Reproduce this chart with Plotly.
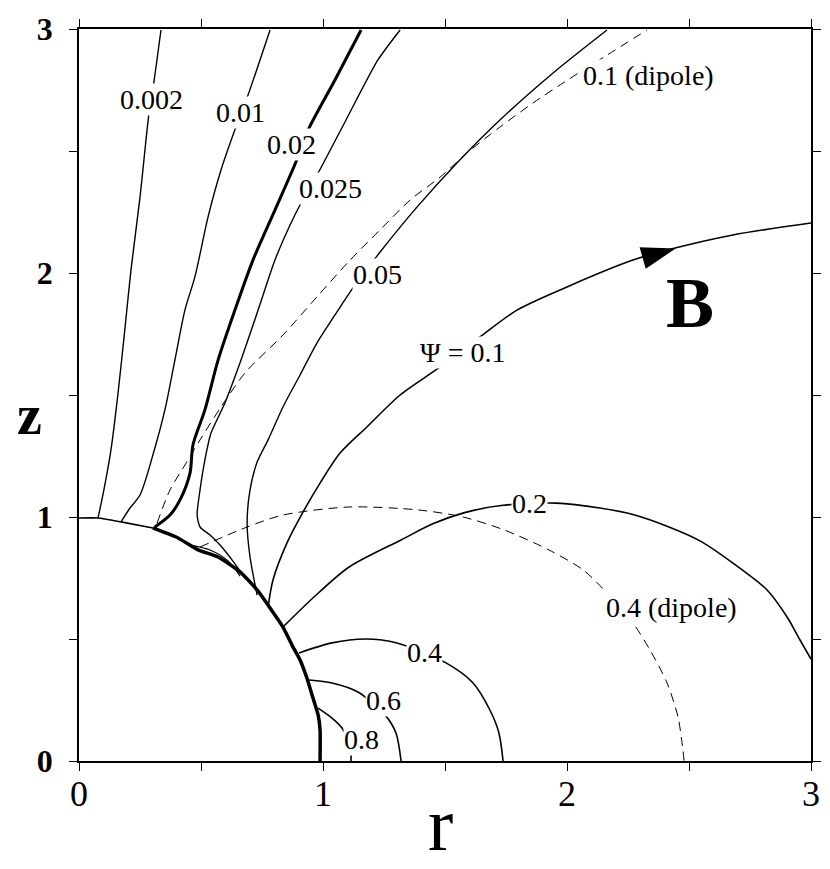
import plotly.graph_objects as go

# ---------------- data (r, z) ----------------
surface_r = [0.0, 0.078, 0.172, 0.303, 0.406, 0.488, 0.570, 0.660, 0.730, 0.783, 0.836, 0.873, 0.906, 0.934, 0.959, 0.980, 0.988, 0.988]
surface_z = [0.996, 0.996, 0.980, 0.955, 0.914, 0.865, 0.836, 0.775, 0.701, 0.627, 0.549, 0.475, 0.414, 0.340, 0.258, 0.189, 0.127, 0.0]

hug_r = [0.455, 0.537, 0.611, 0.660]
hug_z = [0.885, 0.865, 0.820, 0.758]

psi002_r = [0.078, 0.102, 0.131, 0.160, 0.189, 0.213, 0.250, 0.287, 0.307, 0.336]
psi002_z = [0.996, 1.111, 1.275, 1.508, 1.779, 2.012, 2.311, 2.656, 2.783, 2.996]

psi01_r = [0.172, 0.209, 0.250, 0.311, 0.352, 0.393, 0.434, 0.475, 0.529, 0.582, 0.643, 0.693, 0.783]
psi01_z = [0.980, 1.037, 1.090, 1.283, 1.439, 1.643, 1.848, 1.984, 2.230, 2.422, 2.598, 2.730, 2.996]

psi02_r = [0.311, 0.373, 0.414, 0.455, 0.467, 0.516, 0.570, 0.639, 0.713, 0.803, 0.889, 0.939, 1.049, 1.156]
psi02_z = [0.959, 1.008, 1.070, 1.180, 1.295, 1.439, 1.643, 1.848, 2.053, 2.258, 2.455, 2.586, 2.791, 2.996]

psi025_r = [0.680, 0.627, 0.578, 0.537, 0.496, 0.484, 0.496, 0.516, 0.541, 0.598, 0.664, 0.734, 0.803, 0.865, 0.910, 0.980, 1.090, 1.225, 1.316]
psi025_z = [0.750, 0.824, 0.885, 0.926, 0.959, 1.008, 1.111, 1.234, 1.344, 1.467, 1.643, 1.848, 2.053, 2.197, 2.287, 2.410, 2.619, 2.873, 2.996]

psi05_r = [0.730, 0.701, 0.689, 0.701, 0.730, 0.775, 0.836, 0.906, 0.975, 1.049, 1.123, 1.234, 1.385, 1.549, 1.725, 1.943, 2.164]
psi05_z = [0.680, 0.836, 0.975, 1.111, 1.225, 1.316, 1.451, 1.582, 1.713, 1.828, 1.939, 2.086, 2.270, 2.451, 2.627, 2.820, 2.996]

psi1_r = [0.775, 0.795, 0.852, 0.918, 0.988, 1.070, 1.180, 1.316, 1.480, 1.643, 1.795, 2.000, 2.270, 2.410, 2.680, 3.000]
psi1_z = [0.631, 0.742, 0.893, 1.020, 1.139, 1.262, 1.369, 1.500, 1.615, 1.738, 1.848, 1.943, 2.053, 2.094, 2.156, 2.205]

psi2_r = [0.836, 0.963, 1.107, 1.320, 1.450, 1.580, 1.730, 1.955, 2.135, 2.270, 2.410, 2.545, 2.680, 2.820, 2.902, 2.955, 3.000]
psi2_z = [0.549, 0.672, 0.795, 0.906, 0.972, 1.018, 1.047, 1.057, 1.037, 1.010, 0.962, 0.902, 0.811, 0.701, 0.590, 0.496, 0.418]

psi4_r = [0.902, 1.037, 1.176, 1.303, 1.504, 1.615, 1.684, 1.721, 1.738]
psi4_z = [0.443, 0.484, 0.500, 0.484, 0.402, 0.320, 0.209, 0.115, 0.0]

psi6_r = [0.943, 1.037, 1.143, 1.254, 1.299, 1.320]
psi6_z = [0.332, 0.320, 0.283, 0.189, 0.115, 0.0]

psi8_r = [0.980, 1.037, 1.078, 1.111, 1.115]
psi8_z = [0.217, 0.176, 0.135, 0.066, 0.0]

dip1_r = [0.320, 0.373, 0.434, 0.496, 0.582, 0.680, 0.836, 0.975, 1.111, 1.246, 1.357, 1.480, 1.590, 1.725, 1.861, 1.984, 2.164, 2.328]
dip1_z = [0.975, 1.111, 1.213, 1.316, 1.451, 1.590, 1.746, 1.902, 2.053, 2.189, 2.299, 2.393, 2.492, 2.598, 2.697, 2.779, 2.893, 2.996]

dip4_r = [0.496, 0.689, 0.836, 1.107, 1.389, 1.574, 1.742, 1.926, 2.066, 2.152, 2.270, 2.340, 2.410, 2.455, 2.475, 2.480]
dip4_z = [0.877, 0.959, 1.008, 1.041, 1.029, 1.000, 0.947, 0.865, 0.783, 0.701, 0.566, 0.455, 0.320, 0.180, 0.045, 0.0]

arrow_r = [2.445]
arrow_z = [2.100]

label_text = ["0.002", "0.01", "0.02", "0.025", "0.05", "\u03a8 = 0.1", "0.1 (dipole)", "0.2", "0.4 (dipole)", "0.4", "0.6", "0.8"]
label_r = [0.299, 0.660, 0.869, 1.029, 1.225, 1.570, 2.332, 1.848, 2.430, 1.418, 1.246, 1.156]
label_z = [2.713, 2.656, 2.525, 2.348, 1.992, 1.676, 2.811, 1.057, 0.631, 0.443, 0.250, 0.090]

tick_vals = [0, 0.5, 1, 1.5, 2, 2.5, 3]
tick_text = ["0", "", "1", "", "2", "", "3"]

FONT = "Liberation Serif, Times New Roman, serif"

fig = go.Figure()

def line(r, z, width=1.4, dash=None, smooth=0.8):
    fig.add_trace(go.Scatter(x=r, y=z, mode="lines",
                             line=dict(color="black", width=width, dash=dash,
                                       shape="spline", smoothing=smooth),
                             showlegend=False, hoverinfo="skip"))

line(dip1_r, dip1_z, 1.0, "9px,6px")
line(dip4_r, dip4_z, 1.0, "9px,6px")
line(psi002_r, psi002_z)
line(psi01_r, psi01_z)
line(psi02_r, psi02_z, 3.0)
line(psi025_r, psi025_z, smooth=0.6)
line(hug_r, hug_z, 1.2)
line(psi05_r, psi05_z)
line(psi1_r, psi1_z, 1.6)
line(psi2_r, psi2_z, 1.6)
line(psi4_r, psi4_z, 1.6)
line(psi6_r, psi6_z, 1.6)
line(psi8_r, psi8_z, 1.6)
line(surface_r[:4], surface_z[:4], 1.6, smooth=0.5)
line(surface_r[3:], surface_z[3:], 3.5, smooth=0.5)

fig.add_trace(go.Scatter(x=arrow_r, y=arrow_z, mode="markers",
                         marker=dict(symbol="arrow", angle=74, size=36, color="black",
                                     line=dict(width=0)),
                         showlegend=False, hoverinfo="skip"))

for t, r, z in zip(label_text, label_r, label_z):
    fig.add_annotation(x=r, y=z, text=t, showarrow=False, bgcolor="white", borderpad=0,
                       xanchor="center", yanchor="middle",
                       font=dict(family=FONT, size=28, color="black"))

fig.add_annotation(x=2.504, y=1.877, text="<b>B</b>", showarrow=False,
                   xanchor="center", yanchor="middle",
                   font=dict(family=FONT, size=72, color="black"))

fig.add_annotation(xref="paper", yref="paper", x=-0.068, y=0.473, text="<b>z</b>",
                   xanchor="center", yanchor="middle",
                   showarrow=False, font=dict(family=FONT, size=56, color="black"))
fig.add_annotation(xref="paper", yref="paper", x=0.4945, y=-0.086, text="r",
                   xanchor="center", yanchor="middle",
                   showarrow=False, font=dict(family=FONT, size=76, color="black"))

axis_common = dict(range=[0, 3], tickvals=tick_vals, ticktext=tick_text,
                   ticks="outside", ticklen=8, tickwidth=1.3, tickcolor="black",
                   showline=True, linecolor="black", linewidth=1.5, mirror="ticks",
                   showgrid=False, zeroline=False, automargin=False)

fig.update_xaxes(**axis_common, ticklabelstandoff=-8,
                 tickfont=dict(family=FONT, size=36, color="black"))
fig.update_yaxes(**axis_common, ticklabelstandoff=10,
                 tickfont=dict(family=FONT, size=32, color="black", weight="bold"))

fig.update_layout(width=822, height=861, autosize=False,
                  margin=dict(l=71, r=19, t=21, b=108),
                  plot_bgcolor="white", paper_bgcolor="white")

fig.write_html("out.html")
